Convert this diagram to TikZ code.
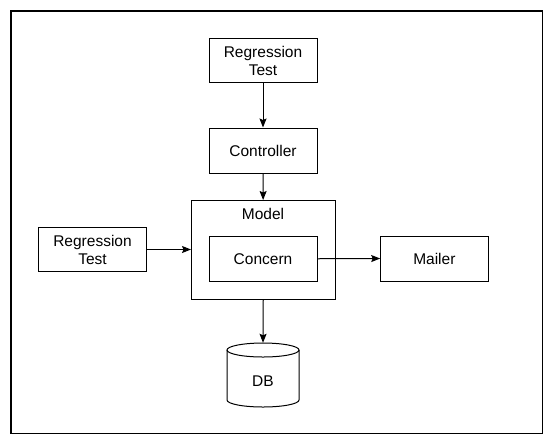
\documentclass[tikz,border=0pt]{standalone}
\usepackage{fontspec}
\setmainfont{Liberation Sans}
\usetikzlibrary{arrows.meta}
\begin{document}
\begin{tikzpicture}[x=1pt,y=-1pt,
  box/.style={draw,line width=1pt,inner sep=0pt,align=center,font=\fontsize{15.5}{18}\selectfont},
  lbl/.style={inner sep=0pt,font=\fontsize{15.5}{18}\selectfont},
  conn/.style={line width=1pt,-{Stealth[length=9pt,width=7pt,inset=1.5pt]}}]
\useasboundingbox (0,0) rectangle (553,445);
\draw[line width=1.2pt] (11,11) rectangle (542.5,433.5);
\node[box,minimum width=108pt,minimum height=44.5pt] (rt1) at (263,60.5) {Regression\\Test};
\node[box,minimum width=108pt,minimum height=45pt] (ctrl) at (263,150.5) {Controller};
\node[box,minimum width=143.5pt,minimum height=98.5pt] (model) at (263.25,249.75) {};
\node[lbl] (mlabel) at (263,214) {Model};
\node[box,minimum width=108pt,minimum height=44.5pt] (concern) at (263,258.75) {Concern};
\node[box,minimum width=108.4pt,minimum height=44.4pt] (rt2) at (92.5,249.5) {Regression\\Test};
\node[box,minimum width=107.3pt,minimum height=45pt] (mailer) at (434.35,258.5) {Mailer};
% DB cylinder
\draw[line width=1pt] (227,350) -- (227,400) arc[start angle=180,end angle=0,x radius=36,y radius=7] -- (299,350);
\draw[line width=1pt] (263,350) ellipse[x radius=36,y radius=7];
\node[lbl,minimum width=72pt,minimum height=64pt] (db) at (263,375) {};
\node[lbl] (dbl) at (263,381) {DB};
\draw[conn] (rt1) -- (ctrl);
\draw[conn] (ctrl) -- (model);
\draw[conn] (rt2.east) -- (rt2.east -| model.west);
\draw[conn] (concern.east) -- (mailer.west);
\draw[conn] (model.south) -- (db.north);
\end{tikzpicture}
\end{document}
